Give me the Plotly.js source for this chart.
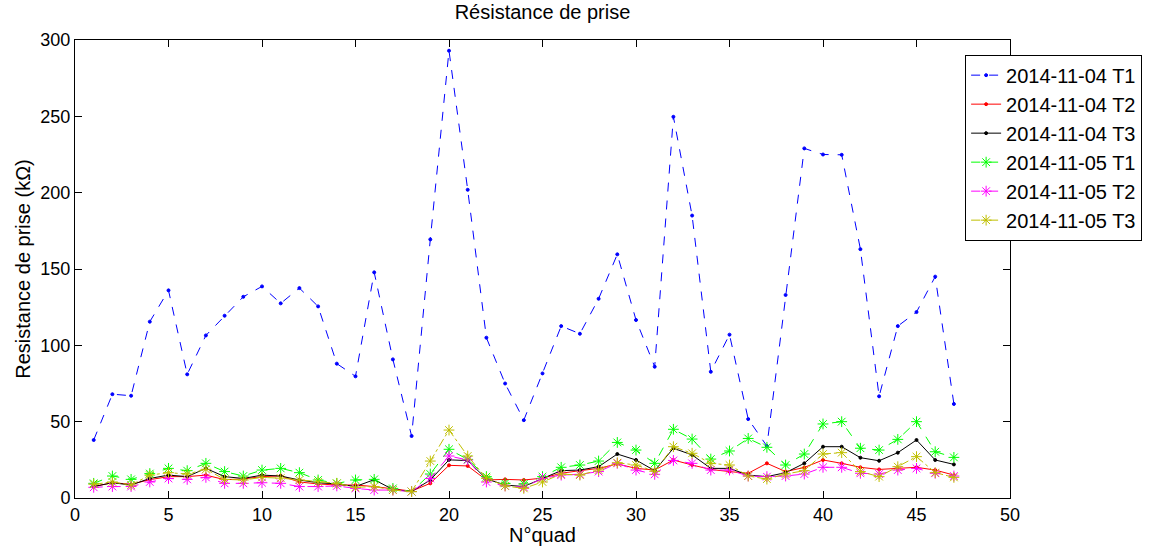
<!DOCTYPE html>
<html><head><meta charset="utf-8">
<script src="https://cdn.plot.ly/plotly-3.0.1.min.js"></script>
<style>html,body{margin:0;padding:0;background:#fff}#chart{width:1154px;height:546px}</style>
</head><body><div id="chart"></div>
<script>
const quad = Array.from({length:47},(_,i)=>i+1);
const seriesNames = ["2014-11-04 T1","2014-11-04 T2","2014-11-04 T3","2014-11-05 T1","2014-11-05 T2","2014-11-05 T3"];
const t1_04 = [38,68,67,115.5,136,81,106.5,119.4,131.8,138.6,127.5,137.5,125.5,88,79.7,147.8,90.8,40.6,169.4,293,201.9,105,75,51,81.6,112.6,107.6,130.5,159.6,116.6,86,249.7,185,82.7,107,51.7,34,133,229,225,224.8,163,66.6,112.6,121.8,145,61.6];
const t2_04 = [7.5,10,9,12,14,14,15,12,12.5,14,14.5,10.5,9.2,8.5,8.5,7.5,6,4.5,9.6,21.4,21,11.8,12.2,11.8,13,16.2,17.9,19.4,22.3,19.4,18.3,24.9,21.6,18.7,17.3,16.2,22.7,17.3,20,24.9,22.7,20.1,18.7,19.4,20.1,18.3,15];
const t3_04 = [7.5,10,8.5,12.8,15,14,19.4,14,12.8,15,14.4,11.8,10,9.2,7.5,12,5.6,4.2,11.8,25,24.5,12.5,8.5,7.5,12.8,17.9,18.3,20.5,28.8,24.9,17.9,32.6,28.2,19.4,19.4,15,14,16.6,22.7,33.6,33.6,26.4,24.4,29.7,38,24.9,22];
const t1_05 = [9.6,14.4,12.2,16,19.4,17.9,22.7,17.3,14.4,18.3,19.4,16.6,11.8,9.6,11.8,12.2,6.3,4.2,15.7,31.9,25.3,14,9.6,9.2,14,20.1,21.6,24.2,36.4,31.4,22.7,45,38.6,25.5,30.8,39,33.2,21.6,28.8,48.5,50,32.6,31.4,38.4,50,30.3,26.6];
const t2_05 = [7,7.5,7.5,10.5,12.8,12.2,13.5,9.6,9.6,10,9.6,7.5,7.5,7.9,6.3,5.2,5.2,4.2,12.8,27.5,24.9,10.5,7.9,7,12.8,15,15.5,17.3,22.7,18.3,15.5,24.6,22.7,18.3,18.3,14.4,14,14.4,15.7,20.1,20.1,16.2,15.7,18.3,19.4,16.2,14.4];
const t3_05 = [9,10.5,8.5,15,16.6,15.7,18.8,12.2,11.8,13.5,13,11.8,10.5,9.6,7,7.5,5.2,4.2,24.2,44.5,27.5,12.9,7.9,6.3,10.5,15.7,15,18.3,23.1,21.6,17.5,33.6,29.3,22.7,21.6,14.4,12.4,15.7,17.9,28.8,29.7,17.3,14,20.5,27.1,16.6,13.5];

const allVals = [t1_04,t2_04,t3_04,t1_05,t2_05,t3_05];
const colors = ["#0000ff","#ff0000","#000000","#00ff00","#ff00ff","#bfbf00"];
const dashes = ["dash","solid","solid","dash","dash","dashdot"];
const symbols = ["circle","circle","circle","asterisk-open","asterisk-open","asterisk-open"];
const msizes = [3,3,3,9,9,9];

const traces = allVals.map((v,i)=>({
  x: quad, y: v, name: seriesNames[i], type: "scatter", mode: "lines+markers",
  line: {color: colors[i], width: 1, dash: dashes[i]},
  marker: {color: colors[i], symbol: symbols[i], size: msizes[i], line:{color: colors[i], width: 1}}
}));

const font = {family: "Liberation Sans, Arial, sans-serif", color: "#000"};
const layout = {
  width: 1154, height: 546,
  margin: {l: 75, r: 144, t: 40, b: 48},
  paper_bgcolor: "#fff", plot_bgcolor: "#fff",
  title: {text: "Résistance de prise", font: {...font, size: 20}, x: 0.5, xref: "paper", y: 0.99, yanchor: "top"},
  xaxis: {range: [0,50], dtick: 5, tick0: 0, ticks: "inside", ticklen: 7, tickcolor: "#000",
    showgrid: false, zeroline: false, showline: true, linecolor: "#000", linewidth: 1, mirror: "ticks",
    tickfont: {...font, size: 18}, title: {text: "N°quad", font: {...font, size: 20}, standoff: 0}},
  yaxis: {range: [0,300], dtick: 50, tick0: 0, ticks: "inside", ticklen: 7, tickcolor: "#000",
    showgrid: false, zeroline: false, showline: true, linecolor: "#000", linewidth: 1, mirror: "ticks",
    tickfont: {...font, size: 18}, title: {text: "Resistance de prise (kΩ)", font: {...font, size: 20}, standoff: 4}},
  legend: {x: 0.952, xanchor: "left", y: 0.968, yanchor: "top", bgcolor: "#fff", bordercolor: "#000", borderwidth: 1,
    font: {...font, size: 20}, tracegroupgap: 0},
  showlegend: true
};
Plotly.newPlot("chart", traces, layout, {displayModeBar: false, staticPlot: true});
</script></body></html>
